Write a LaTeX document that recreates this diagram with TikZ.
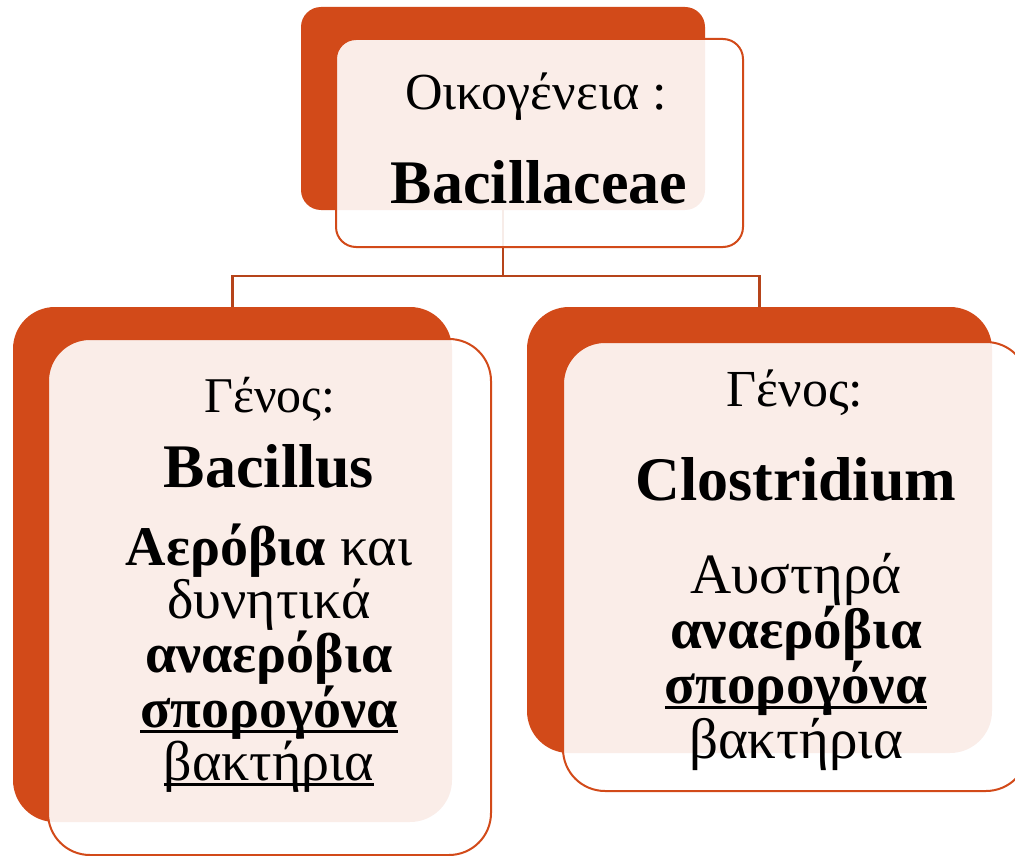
\documentclass[tikz,border=0pt]{standalone}
\usepackage{fontspec}
\setmainfont{Liberation Serif}
\usetikzlibrary{positioning}
\definecolor{bacorange}{RGB}{210,74,25}
\definecolor{baclink}{RGB}{182,68,26}
\newsavebox\ulbox
\newcommand\undl[1]{\sbox\ulbox{#1}\rlap{\rule[-0.1em]{\wd\ulbox}{0.055em}}\usebox\ulbox}

\begin{document}
\begin{tikzpicture}[x=1pt,y=-1pt,
  back/.style={fill=bacorange,rounded corners=#1,inner sep=0pt},
  back/.default=42pt,
  front/.style={draw=bacorange,line width=2pt,fill=white,fill opacity=0.9,rounded corners=#1,inner sep=0pt},
  front/.default=42pt,
  link/.style={draw=baclink,line width=2.5pt},
  txt/.style={anchor=base,align=center,inner sep=0pt}]
\useasboundingbox (0,0) rectangle (1015,856);
% orange backs
\node[back=20pt,minimum width=404pt,minimum height=203pt] (famback) at (503,108.5) {};
\node[back,minimum width=439pt,minimum height=515pt] (bacback) at (232.5,564.5) {};
\node[back,minimum width=465pt,minimum height=446pt] (cloback) at (759.5,530) {};
\coordinate (fork) at (503,276);
\draw[link] (famback.south) -- (fork);
\draw[link] (fork) -| (bacback.north);
\draw[link] (fork) -| (cloback.north);
% light fronts
\node[front=20pt,minimum width=407pt,minimum height=208pt] (famfront) at (539.5,143) {};
\node[front,minimum width=443pt,minimum height=516pt] (bacfront) at (269.5,597) {};
\node[front,minimum width=465pt,minimum height=449pt] (clofront) at (795.5,566.5) {};
% texts (body nodes sit on their last line)
\node[txt,font=\fontsize{52}{52}\selectfont] (famlabel) at (536,110) {Οικογένεια :};
\node[txt,font=\fontsize{62}{62}\selectfont\bfseries] (famname) at (539,203) {Bacillaceae};
\node[txt,font=\fontsize{50}{50}\selectfont] (baclabel) at (270,412) {Γένος:};
\node[txt,font=\fontsize{62}{62}\selectfont\bfseries] (bacname) at (269,487) {Bacillus};
\node[txt,font=\fontsize{56}{52.5}\selectfont] (bacbody) at (269,780)
  {\textbf{Αερόβια} και\\δυνητικά\\\textbf{αναερόβια}\\\undl{\textbf{σπορογόνα}}\\\undl{βακτήρια}};
\node[txt,font=\fontsize{52}{52}\selectfont] (clolabel) at (795,406) {Γένος:};
\node[txt,font=\fontsize{62}{62}\selectfont\bfseries] (cloname) at (796,500) {Clostridium};
\node[txt,font=\fontsize{57}{55}\selectfont] (clobody) at (796,758)
  {Αυστηρά\\\textbf{αναερόβια}\\\undl{\textbf{σπορογόνα}}\\βακτήρια};
\end{tikzpicture}
\end{document}
